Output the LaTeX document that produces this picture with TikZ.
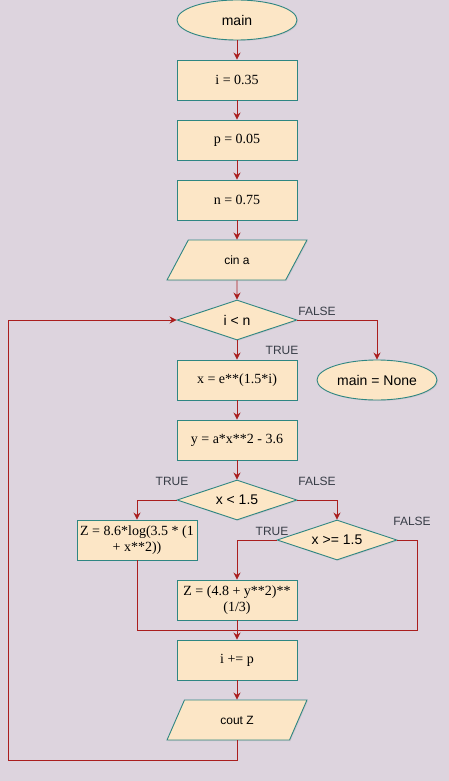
\documentclass[tikz,border=0pt]{standalone}
\usepackage{fontspec}
\setmainfont{Liberation Serif}
\setsansfont{Liberation Sans}
\usetikzlibrary{shapes.geometric,arrows.meta,shadows}
\definecolor{bgcol}{RGB}{221,212,222}
\definecolor{boxfill}{RGB}{252,230,198}
\definecolor{boxline}{RGB}{46,134,130}
\definecolor{arrcol}{RGB}{170,30,30}
\definecolor{labcol}{RGB}{55,60,70}

\begin{document}
\begin{tikzpicture}[x=1pt,y=-1pt,
  base/.style={draw=boxline,fill=boxfill,line width=0.9pt,inner sep=2pt,
    drop shadow={shadow xshift=1pt,shadow yshift=-1pt,opacity=0.15}},
  proc/.style={base,rectangle,minimum width=120pt,minimum height=40pt,
    align=center,font=\fontsize{14}{16}\selectfont},
  term/.style={base,ellipse,minimum width=120pt,minimum height=40pt,
    font=\sffamily\fontsize{14}{16}\selectfont},
  io/.style={base,trapezium,trapezium left angle=63.4,trapezium right angle=116.6,
    trapezium stretches=true,minimum width=140pt,minimum height=40pt,
    font=\sffamily\fontsize{12}{14}\selectfont},
  test/.style={base,diamond,aspect=3,minimum width=120pt,minimum height=40pt,inner sep=0pt,
    font=\sffamily\fontsize{14}{16}\selectfont},
  lab/.style={text=labcol,font=\sffamily\fontsize{12}{14}\selectfont,inner sep=0pt},
  arr/.style={draw=arrcol,line width=0.9pt,-{Stealth[length=7pt,width=7pt]}},
  line/.style={draw=arrcol,line width=0.9pt}]
  \fill[bgcol] (0,0) rectangle (449,781);
  \useasboundingbox (0,0) rectangle (449,781);

  \node[term] (main) at (237,20) {main};
  \node[proc] (seti) at (237,80) {i = 0.35};
  \node[proc] (setp) at (237,140) {p = 0.05};
  \node[proc] (setn) at (237,200) {n = 0.75};
  \node[io] (cina) at (237,260) {cin a};
  \node[test] (loop) at (237,320) {i < n};
  \node[term] (none) at (377,380) {main = None};
  \node[proc] (setx) at (237,380) {x = e**(1.5*i)};
  \node[proc] (sety) at (237,440) {y = a*x**2 - 3.6};
  \node[test] (ifa) at (237,500) {x < 1.5};
  \node[proc] (za) at (137,540) {Z = 8.6*log(3.5 * (1\\ + x**2))};
  \node[test] (ifb) at (337,540) {x >= 1.5};
  \node[proc] (zb) at (237,600) {Z = (4.8 + y**2)**\\ (1/3)};
  \node[proc] (inc) at (237,660) {i += p};
  \node[io] (coutz) at (237,720) {cout Z};

  \node[lab] at (317,311) {FALSE};
  \node[lab] at (282,350) {TRUE};
  \node[lab] at (172,481) {TRUE};
  \node[lab] at (317,481) {FALSE};
  \node[lab] at (272,531) {TRUE};
  \node[lab] at (412,521) {FALSE};

  \coordinate (join) at (237,630);
  \coordinate (joinr) at (417,630);
  \coordinate (back) at (8,760);

  \draw[arr] (main) -- (seti);
  \draw[arr] (seti) -- (setp);
  \draw[arr] (setp) -- (setn);
  \draw[arr] (setn) -- (cina);
  \draw[arr] (cina) -- (loop);
  \draw[arr] (loop.east) -| (none.north);
  \draw[arr] (loop) -- (setx);
  \draw[arr] (setx) -- (sety);
  \draw[arr] (sety) -- (ifa);
  \draw[arr] (ifa.west) -| (za.north);
  \draw[arr] (ifa.east) -| (ifb.north);
  \draw[arr] (ifb.west) -| (zb.north);
  \draw[line] (ifb.east) -| (joinr) -- (join);
  \draw[line] (za.south) |- (join);
  \draw[arr] (zb) -- (inc);
  \draw[arr] (inc) -- (coutz);
  \draw[arr] (coutz.south) |- (back) |- (loop.west);
\end{tikzpicture}
\end{document}
